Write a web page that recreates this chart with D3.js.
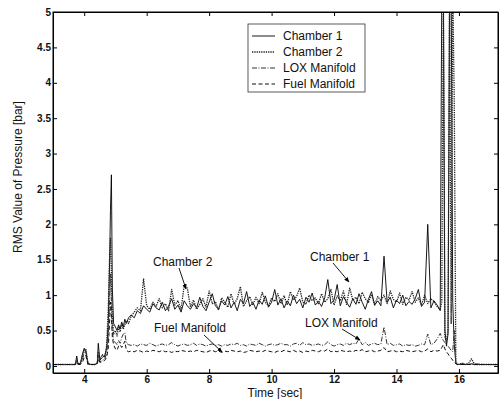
<!DOCTYPE html>
<html>
<head>
<meta charset="utf-8">
<script src="https://cdn.jsdelivr.net/npm/d3@7"></script>
<style>
  body { margin: 0; background: #fff; }
  svg { display: block; font-family: Arial, "Liberation Sans", Helvetica, sans-serif; }
  .axis path, .axis line { stroke: #000; }
  .axis text { font-size: 10px; font-weight: bold; fill: #111; }
</style>
</head>
<body>
<div id="chart"></div>
<script>
// time samples [sec], shared by all four traces
const time = [
  3.0, 3.3, 3.6, 3.68, 3.72, 3.76, 3.8, 3.88, 3.95, 4.0, 4.05, 4.12, 4.2, 4.35, 4.42, 4.45, 4.5, 4.58, 4.66, 4.72,
  4.77, 4.81, 4.84, 4.87, 4.9, 4.94, 5.0, 5.05, 5.1, 5.15, 5.2, 5.25, 5.3, 5.35, 5.42,
  5.5, 5.6, 5.7, 5.8, 5.9, 6.0, 6.1, 6.2, 6.3, 6.4,
  6.5, 6.6, 6.7, 6.8, 6.9, 7.0, 7.1, 7.2, 7.3, 7.4,
  7.5, 7.6, 7.7, 7.8, 7.9, 8.0, 8.1, 8.2, 8.3, 8.4,
  8.5, 8.6, 8.7, 8.8, 8.9, 9.0, 9.1, 9.2, 9.3, 9.4,
  9.5, 9.6, 9.7, 9.8, 9.9, 10.0, 10.1, 10.2, 10.3, 10.4,
  10.5, 10.6, 10.7, 10.8, 10.9, 11.0, 11.1, 11.2, 11.3, 11.4,
  11.5, 11.6, 11.7, 11.8, 11.9, 12.0, 12.1, 12.2, 12.3, 12.4,
  12.5, 12.6, 12.7, 12.8, 12.9, 13.0, 13.1, 13.2, 13.3, 13.4,
  13.5, 13.6, 13.7, 13.8, 13.9, 14.0, 14.1, 14.2, 14.3, 14.4,
  14.5, 14.6, 14.7, 14.8, 14.9, 15.0, 15.1, 15.2, 15.3, 15.4,
  15.45, 15.5, 15.55, 15.6, 15.65, 15.7, 15.75, 15.8, 15.85, 15.9, 15.95, 16.0, 16.1, 16.2, 16.3, 16.4, 16.5, 16.8, 17.25
];

// RMS pressure [bar]
const chamber1 = [
  0.02, 0.02, 0.02, 0.02, 0.03, 0.14, 0.03, 0.04, 0.18, 0.25, 0.2, 0.04, 0.02, 0.02, 0.05, 0.32, 0.08, 0.12, 0.15, 0.25,
  0.6, 1.4, 2.2, 2.7, 1.1, 0.6, 0.55, 0.5, 0.58, 0.52, 0.62, 0.55, 0.66, 0.6, 0.68,
  0.72, 0.68, 0.78, 0.74, 0.85, 0.8, 0.76, 0.88, 0.82, 0.79,
  0.9, 0.78, 0.84, 0.95, 0.8, 0.86, 0.76, 0.92, 0.85, 0.8,
  0.88, 0.82, 0.97, 0.84, 0.78, 0.9, 1.02, 0.85, 0.8, 0.92,
  0.86, 0.98, 0.82, 0.9, 0.78, 0.94, 0.88, 1.05, 0.84, 0.9,
  0.8, 0.93, 0.87, 0.99, 0.83, 0.9, 1.08, 0.86, 0.95, 0.82,
  0.92, 0.85, 1.0, 0.88, 0.94, 0.82, 0.97, 0.9, 1.03, 0.86,
  0.91, 0.84, 0.96, 1.22, 0.88, 0.93, 1.15, 0.85, 0.98, 0.9,
  0.83, 0.95, 0.87, 1.02, 0.9, 0.8, 0.94, 1.05, 0.86, 0.92,
  0.85, 1.55, 0.9, 0.97, 0.82, 0.93, 0.88, 1.0, 0.85, 0.91,
  0.87, 0.95, 1.08, 0.84, 0.9, 2.0, 0.82, 0.92, 0.86, 0.78,
  5.4, 5.4, 0.5, 0.28, 0.45, 5.4, 5.4, 0.9, 0.3, 0.04, 0.02, 0.02, 0.03, 0.02, 0.02, 0.03, 0.02, 0.02, 0.02
];
const chamber2 = [
  0.02, 0.02, 0.02, 0.02, 0.02, 0.1, 0.02, 0.03, 0.15, 0.22, 0.24, 0.03, 0.02, 0.02, 0.04, 0.2, 0.1, 0.16, 0.12, 0.3,
  0.8, 1.5, 1.8, 1.3, 0.7, 0.45, 0.5, 0.42, 0.55, 0.48, 0.6, 0.52, 0.58, 0.64, 0.6,
  0.7, 0.76, 0.82, 0.78, 1.23, 0.85, 0.8, 0.9, 0.84, 0.95,
  0.82, 0.88, 0.78, 1.08, 0.86, 0.92, 0.8, 1.13, 1.1, 0.84,
  0.93, 0.8, 0.87, 0.95, 0.83, 1.06, 0.88, 0.91, 0.79, 0.96,
  0.9, 0.83, 1.02, 0.87, 0.95, 1.12, 0.84, 0.92, 0.98, 0.86,
  0.97, 0.88, 1.04, 0.9, 0.85, 0.96, 0.91, 1.02, 0.88, 0.99,
  0.86, 1.05, 0.93, 0.98, 1.1, 0.9, 0.87, 1.0, 0.92, 0.96,
  0.88, 1.02, 0.9, 0.95, 1.08, 0.86, 0.99, 0.92, 1.06, 0.87,
  1.1, 0.93, 0.97, 0.88, 1.04, 0.95, 0.9, 1.01, 0.86, 0.98,
  0.92, 1.0, 0.88, 1.06, 0.94, 0.9, 1.03, 0.87, 0.97, 0.93,
  1.05, 0.9, 0.96, 0.86, 1.0, 0.88, 0.95, 0.91, 0.84, 0.8,
  0.9, 5.4, 0.4, 0.35, 0.5, 5.4, 0.6, 5.4, 3.7, 0.06, 0.03, 0.02, 0.04, 0.02, 0.03, 0.1, 0.02, 0.02, 0.02
];
const loxManifold = [
  0.02, 0.02, 0.02, 0.02, 0.02, 0.06, 0.02, 0.03, 0.1, 0.2, 0.22, 0.03, 0.02, 0.02, 0.03, 0.15, 0.06, 0.08, 0.1, 0.18,
  0.4, 0.9, 1.3, 0.9, 0.5, 0.35, 0.33, 0.3, 0.36, 0.32, 0.4, 0.45, 0.47, 0.32, 0.3,
  0.29, 0.3, 0.28, 0.31, 0.3, 0.29, 0.32, 0.3, 0.28, 0.3,
  0.31, 0.29, 0.3, 0.33, 0.3, 0.28, 0.3, 0.31, 0.29, 0.3,
  0.32, 0.29, 0.31, 0.3, 0.28, 0.3, 0.31, 0.29, 0.3, 0.28,
  0.3, 0.29, 0.31, 0.3, 0.32, 0.29, 0.3, 0.28, 0.31, 0.3,
  0.29, 0.32, 0.3, 0.28, 0.3, 0.31, 0.29, 0.3, 0.32, 0.3,
  0.3, 0.28, 0.31, 0.32, 0.29, 0.33, 0.3, 0.31, 0.29, 0.3,
  0.31, 0.29, 0.3, 0.34, 0.3, 0.28, 0.3, 0.31, 0.29, 0.32,
  0.3, 0.32, 0.31, 0.38, 0.3, 0.33, 0.29, 0.31, 0.32, 0.3,
  0.31, 0.55, 0.3, 0.32, 0.29, 0.3, 0.31, 0.28, 0.3, 0.29,
  0.3, 0.28, 0.29, 0.31, 0.3, 0.45, 0.3, 0.32, 0.38, 0.46,
  0.4, 0.36, 0.33, 0.3, 0.28, 0.25, 0.22, 0.2, 0.5, 0.03, 0.02, 0.02, 0.02, 0.03, 0.02, 0.02, 0.03, 0.02, 0.02
];
const fuelManifold = [
  0.02, 0.02, 0.02, 0.02, 0.02, 0.04, 0.02, 0.02, 0.06, 0.12, 0.15, 0.02, 0.02, 0.02, 0.03, 0.1, 0.05, 0.06, 0.08, 0.12,
  0.25, 0.6, 0.9, 0.7, 0.4, 0.3, 0.24, 0.22, 0.28, 0.3, 0.26, 0.3, 0.35, 0.22, 0.2,
  0.21, 0.2, 0.22, 0.21, 0.19, 0.21, 0.2, 0.22, 0.21, 0.2,
  0.22, 0.2, 0.21, 0.19, 0.21, 0.2, 0.22, 0.21, 0.2, 0.21,
  0.2, 0.22, 0.21, 0.2, 0.19, 0.21, 0.22, 0.2, 0.21, 0.19,
  0.21, 0.2, 0.22, 0.21, 0.2, 0.21, 0.19, 0.2, 0.22, 0.21,
  0.2, 0.21, 0.2, 0.22, 0.21, 0.2, 0.19, 0.21, 0.2, 0.22,
  0.21, 0.2, 0.22, 0.2, 0.21, 0.19, 0.21, 0.2, 0.22, 0.21,
  0.2, 0.22, 0.21, 0.24, 0.2, 0.21, 0.2, 0.22, 0.21, 0.2,
  0.21, 0.2, 0.22, 0.21, 0.23, 0.2, 0.21, 0.22, 0.2, 0.21,
  0.22, 0.26, 0.2, 0.21, 0.22, 0.2, 0.21, 0.2, 0.22, 0.21,
  0.2, 0.21, 0.22, 0.2, 0.21, 0.24, 0.2, 0.22, 0.21, 0.22,
  0.26, 0.3, 0.24, 0.2, 0.17, 0.14, 0.11, 0.08, 0.05, 0.03, 0.02, 0.02, 0.02, 0.02, 0.02, 0.02, 0.02, 0.02, 0.02
];

const seriesNames = ['Chamber 1', 'Chamber 2', 'LOX Manifold', 'Fuel Manifold'];
const xTicks = [4, 6, 8, 10, 12, 14, 16];
const yTicks = [0, 0.5, 1, 1.5, 2, 2.5, 3, 3.5, 4, 4.5, 5];

// line looks per trace (scanned b/w plot)
const styles = [
  { stroke: '#000', width: 0.9, dash: null },
  { stroke: '#222', width: 1.3, dash: '1.3,1' },
  { stroke: '#333', width: 1, dash: '5,1.5,1,1.5' },
  { stroke: '#111', width: 1, dash: '4,2.5' }
];

const W = 499, H = 399;
const margin = { top: 12, right: 1, bottom: 26, left: 53 };
const width = W - margin.left - margin.right;
const height = H - margin.top - margin.bottom;

const svg = d3.select('#chart').append('svg').attr('width', W).attr('height', H);
const g = svg.append('g').attr('transform', 'translate(' + margin.left + ',' + margin.top + ')');

const x = d3.scaleLinear().domain([3, 17.25]).range([0, width]);
const y = d3.scaleLinear().domain([-0.1, 5]).range([height, 0]);

svg.append('defs').append('clipPath').attr('id', 'plotclip')
  .append('rect').attr('width', width).attr('height', height);
svg.select('defs').append('marker')
  .attr('id', 'arrow').attr('viewBox', '0 0 10 10').attr('refX', 9).attr('refY', 5)
  .attr('markerWidth', 6).attr('markerHeight', 6).attr('orient', 'auto')
  .append('path').attr('d', 'M0,1L10,5L0,9Z').attr('fill', '#000');

// traces
const allSeries = [chamber1, chamber2, loxManifold, fuelManifold];
const line = d3.line().x(d => x(d[0])).y(d => y(d[1]));
const traces = g.append('g').attr('clip-path', 'url(#plotclip)');
allSeries.forEach((vals, i) => {
  const pts = time.map((t, k) => [t, vals[k]]).filter(d => d[1] !== undefined);
  traces.append('path')
    .datum(pts)
    .attr('fill', 'none')
    .attr('stroke', styles[i].stroke)
    .attr('stroke-width', styles[i].width)
    .attr('stroke-dasharray', styles[i].dash)
    .attr('stroke-linejoin', 'round')
    .attr('d', line);
});

// axes, matlab style: ticks inside on all four sides
const fmt = d => String(d);
g.append('g').attr('class', 'axis').attr('transform', 'translate(0,' + height + ')')
  .call(d3.axisBottom(x).tickValues(xTicks).tickSize(-4).tickSizeOuter(0).tickPadding(3).tickFormat(fmt));
g.append('g').attr('class', 'axis')
  .call(d3.axisTop(x).tickValues(xTicks).tickSize(-4).tickSizeOuter(0).tickFormat(''));
g.append('g').attr('class', 'axis')
  .call(d3.axisLeft(y).tickValues(yTicks).tickSize(-4).tickSizeOuter(0).tickPadding(2).tickFormat(fmt));
g.append('g').attr('class', 'axis').attr('transform', 'translate(' + width + ',0)')
  .call(d3.axisRight(y).tickValues(yTicks).tickSize(-4).tickSizeOuter(0).tickFormat(''));
g.append('rect').attr('width', width).attr('height', height)
  .attr('fill', 'none').attr('stroke', '#000').attr('stroke-width', 1);

// axis titles
svg.append('text').attr('x', 275).attr('y', 397).attr('text-anchor', 'middle')
  .attr('font-size', 12).attr('fill', '#111').text('Time [sec]');
svg.append('text').attr('transform', 'translate(22,177) rotate(-90)').attr('text-anchor', 'middle')
  .attr('font-size', 12).attr('fill', '#111').text('RMS Value of Pressure [bar]');

// legend
const legend = svg.append('g').attr('transform', 'translate(248,24)');
legend.append('rect').attr('width', 117).attr('height', 68)
  .attr('fill', '#fff').attr('stroke', '#333').attr('stroke-width', 0.8);
seriesNames.forEach((name, i) => {
  const row = legend.append('g').attr('transform', 'translate(0,' + (12 + i * 16) + ')');
  row.append('line').attr('x1', 4).attr('x2', 27).attr('y1', 0).attr('y2', 0)
    .attr('stroke', styles[i].stroke).attr('stroke-width', styles[i].width)
    .attr('stroke-dasharray', styles[i].dash);
  row.append('text').attr('x', 35).attr('y', 4).attr('font-size', 12).attr('fill', '#111').text(name);
});

// annotations with arrows
const notes = [
  { text: 'Chamber 2', tx: 153, ty: 266, from: [179, 268], to: [186, 289] },
  { text: 'Fuel Manifold', tx: 154, ty: 332, from: [204, 335], to: [222, 352] },
  { text: 'Chamber 1', tx: 310, ty: 261, from: [333, 263], to: [349, 282] },
  { text: 'LOX Manifold', tx: 305, ty: 327, from: [342, 329], to: [360, 340] }
];
notes.forEach(n => {
  svg.append('text').attr('x', n.tx).attr('y', n.ty).attr('font-size', 12).attr('fill', '#111').text(n.text);
  svg.append('line').attr('x1', n.from[0]).attr('y1', n.from[1]).attr('x2', n.to[0]).attr('y2', n.to[1])
    .attr('stroke', '#000').attr('stroke-width', 0.9).attr('marker-end', 'url(#arrow)');
});
</script>
</body>
</html>
